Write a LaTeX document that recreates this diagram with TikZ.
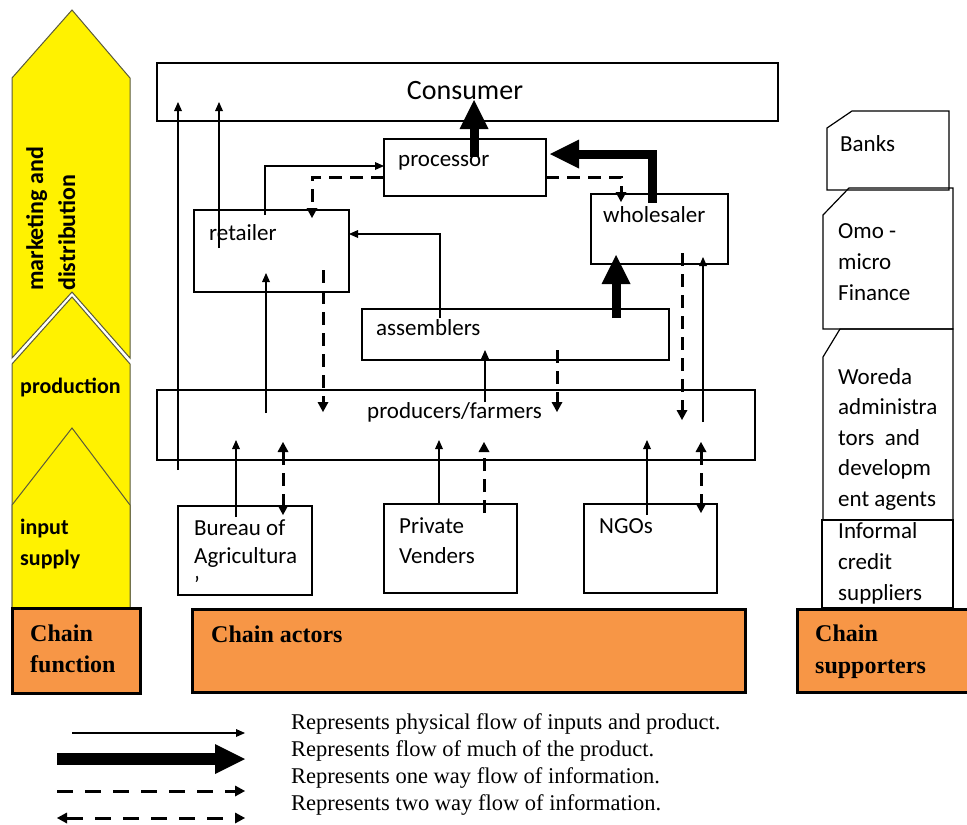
\documentclass[tikz,border=0pt]{standalone}
\usepackage{fontspec}
\setmainfont{Carlito}
\newfontfamily\legfont{Liberation Serif}
\usetikzlibrary{arrows.meta}
\definecolor{chainorange}{RGB}{247,150,70}
\definecolor{chevline}{RGB}{90,90,60}
\begin{document}
\begin{tikzpicture}[x=1pt,y=-1pt,
  box/.style={draw, line width=1.2pt, inner sep=0pt, outer sep=0pt},
  chainbox/.style={draw, line width=3pt, fill=chainorange, inner sep=0pt, outer sep=0pt},
  lbl/.style={inner sep=0pt, anchor=base west, align=left, font=\fontsize{23}{30.5}\selectfont},
  chainlbl/.style={inner sep=0pt, anchor=base west, align=left, font=\legfont\bfseries\fontsize{24}{31}\selectfont},
  yellowlbl/.style={inner sep=0pt, align=left, font=\bfseries\fontsize{22}{31}\selectfont},
  chev/.style={fill=yellow, draw=chevline, line width=1pt, line join=miter},
  thinarr/.style={line width=1.1pt, -{Triangle[length=9pt,width=8pt,line width=0pt]}},
  dasharr/.style={line width=3pt, dash pattern=on 13pt off 8pt, -{Triangle[length=10pt,width=11pt,line width=0pt]}},
  dashtwo/.style={line width=3pt, dash pattern=on 13pt off 8pt, {Triangle[length=10pt,width=11pt,line width=0pt]}-{Triangle[length=10pt,width=11pt,line width=0pt]}},
  thickarr/.style={line width=9pt, line join=miter, -{Triangle[length=29pt,width=29pt,line width=0pt]}}
]
\useasboundingbox (0,0) rectangle (967,825);

% ---------- chain function chevrons ----------
\draw[chev] (12,78) -- (72,10) -- (130,78) -- (130,358) -- (72,292) -- (12,358) -- cycle;
\draw[chev] (12,364) -- (72,297) -- (130,364) -- (130,608) -- (12,608) -- cycle;
\draw[chev] (12,505) -- (72,428) -- (130,505) -- (130,608) -- (12,608) -- cycle;
\node[yellowlbl, font=\bfseries\fontsize{24}{32}\selectfont, rotate=90, anchor=north west] (mkt) at (26,291) {marketing and\\distribution};
\node[yellowlbl, anchor=base west] (prodn) at (20,393) {production};
\node[yellowlbl, anchor=base west] (inp) at (20,565) {input\\supply};

% ---------- chain boxes ----------
\node[chainbox, minimum width=128pt, minimum height=85pt] (cf) at (76,650.5) {};
\node[chainbox, minimum width=553pt, minimum height=83pt] (ca) at (468.5,650.5) {};
\node[chainbox, minimum width=178pt, minimum height=83pt] (cs) at (886,650.5) {};
\node[chainlbl] (cft) at (30,672) {Chain\\function};
\node[chainlbl] (cat) at (211,642) {Chain actors};
\node[chainlbl, font=\legfont\bfseries\fontsize{24}{32}\selectfont] (cst) at (815,673) {Chain\\supporters};

% ---------- actor boxes ----------
\node[box, minimum width=621pt, minimum height=58pt] (cons) at (467.5,92) {};
\node[box, minimum width=162pt, minimum height=57pt] (proc) at (465,167.5) {};
\node[box, minimum width=155pt, minimum height=82pt] (ret) at (271.5,251) {};
\node[box, minimum width=137pt, minimum height=70pt] (whol) at (659.5,229) {};
\node[box, minimum width=307pt, minimum height=51pt] (asm) at (515.5,334.5) {};
\node[box, minimum width=598pt, minimum height=70pt] (farm) at (456,425) {};
\node[box, minimum width=134pt, minimum height=89pt] (bur) at (245,550.5) {};
\node[box, minimum width=133pt, minimum height=89pt] (priv) at (450.5,548.5) {};
\node[box, minimum width=133pt, minimum height=89pt] (ngo) at (650.5,548.5) {};

\node[inner sep=0pt, anchor=base, font=\fontsize{28}{30}\selectfont] (const) at (465,99) {Consumer};
\node[lbl] (proct) at (398,166) {processor};
\node[lbl] (rett) at (209,240) {retailer};
\node[lbl] (wholt) at (603,222) {wholesaler};
\node[lbl] (asmt) at (376,335) {assemblers};
\node[lbl] (farmt) at (367,418) {producers/farmers};
\node[lbl, font=\fontsize{23}{28.5}\selectfont] (burt) at (194,592) {Bureau of\\Agricultura\\'};
\node[lbl, font=\fontsize{23}{30}\selectfont] (privt) at (399,563) {Private\\Venders};
\node[lbl] (ngot) at (599,533) {NGOs};

% ---------- supporters ----------
\draw[line width=1.2pt] (827,128) -- (852,111) -- (949,111) -- (949,190) -- (827,190) -- cycle;
\draw[line width=1.2pt] (823,215) -- (849,188) -- (953,188) -- (953,329) -- (823,329) -- cycle;
\draw[line width=1.2pt] (823,357) -- (840,329) -- (953,329) -- (953,520) -- (823,520) -- cycle;
\draw[line width=1.2pt] (822,520) rectangle (953,608);
\node[lbl] (banks) at (840,151) {Banks};
\node[lbl, font=\fontsize{23}{31}\selectfont] (omo) at (838,300) {Omo -\\micro\\Finance};
\node[lbl] (wor) at (838,506) {Woreda\\administra\\tors~ and\\developm\\ent agents};
\node[lbl, font=\fontsize{23}{31}\selectfont] (inf) at (838,600) {Informal\\credit\\suppliers};

% ---------- free-end coordinates ----------
\coordinate (l1s) at (178,470);
\coordinate (l1e) at (178,102);
\coordinate (l2s) at (219,248);
\coordinate (l2e) at (219,102);
\coordinate (rp1) at (265,215);
\coordinate (rp2) at (265,166);
\coordinate (pr1) at (312,177);
\coordinate (pr2) at (312,218);
\coordinate (pw1) at (621,177);
\coordinate (pw2) at (621,202);
\coordinate (pcs) at (474,157);
\coordinate (pce) at (474,100);
\coordinate (wp1) at (652,203);
\coordinate (wp2) at (652,154);
\coordinate (ar1) at (440,318);
\coordinate (ar2) at (440,234);
\coordinate (aws) at (616,318);
\coordinate (awe) at (616,255);
\coordinate (wfs) at (682,253);
\coordinate (wfe) at (682,420);
\coordinate (fws) at (703,422);
\coordinate (fwe) at (703,257);
\coordinate (frs) at (266,413);
\coordinate (fre) at (266,273);
\coordinate (rfs) at (323,270);
\coordinate (rfe) at (323,412);
\coordinate (fas) at (485,402);
\coordinate (fae) at (485,350);
\coordinate (afs) at (557,350);
\coordinate (afe) at (557,412);
\coordinate (bfs) at (236,517);
\coordinate (bfe) at (236,440);
\coordinate (bds) at (283,442);
\coordinate (bde) at (283,515);
\coordinate (pfs) at (439,504);
\coordinate (pfe) at (439,440);
\coordinate (pds) at (484,513);
\coordinate (pde) at (484,442);
\coordinate (nfs) at (647,515);
\coordinate (nfe) at (647,440);
\coordinate (nds) at (701,442);
\coordinate (nde) at (701,513);

% ---------- connectors ----------
\draw[thinarr] (l1s) -- (l1e);
\draw[thinarr] (l2s) -- (l2e);
\draw[thinarr] (rp1) -- (rp2) -- (proc.west |- rp2);
\draw[dasharr] (proc.west |- pr1) -- (pr1) -- (pr2);
\draw[dasharr] (proc.east |- pw1) -- (pw1) -- (pw2);
\draw[thinarr] (ar1) -- (ar2) -- (ret.east |- ar2);
\draw[dasharr] (wfs) -- (wfe);
\draw[thinarr] (fws) -- (fwe);
\draw[thinarr] (frs) -- (fre);
\draw[dasharr] (rfs) -- (rfe);
\draw[thinarr] (fas) -- (fae);
\draw[dasharr] (afs) -- (afe);
\draw[thinarr] (bfs) -- (bfe);
\draw[dashtwo] (bds) -- (bde);
\draw[thinarr] (pfs) -- (pfe);
\draw[dasharr] (pds) -- (pde);
\draw[thinarr] (nfs) -- (nfe);
\draw[dashtwo] (nds) -- (nde);
\draw[thickarr] (pcs) -- (pce);
\draw[thickarr] (wp1) -- (wp2) -- ([xshift=4pt]proc.east |- wp2);
\draw[thickarr] (aws) -- (awe);

% ---------- legend ----------
\coordinate (g1s) at (72,733);
\coordinate (g1e) at (245,733);
\coordinate (g2s) at (57,759);
\coordinate (g2e) at (245,759);
\coordinate (g3s) at (57,791);
\coordinate (g3e) at (245,791);
\coordinate (g4s) at (57,818);
\coordinate (g4e) at (245,818);
\draw[thinarr] (g1s) -- (g1e);
\draw[line width=12pt, -{Triangle[length=30pt,width=30pt,line width=0pt]}] (g2s) -- (g2e);
\draw[dasharr, dash pattern=on 16pt off 12pt] (g3s) -- (g3e);
\draw[dashtwo, dash pattern=on 16pt off 12pt] (g4s) -- (g4e);
\node[inner sep=0pt, anchor=base west, align=left, font=\legfont\fontsize{22.5}{27}\selectfont] (legt) at (291,810)
  {Represents physical flow of inputs and product.\\Represents flow of much of the product.\\Represents one way flow of information.\\Represents two way flow of information.};
\end{tikzpicture}
\end{document}
